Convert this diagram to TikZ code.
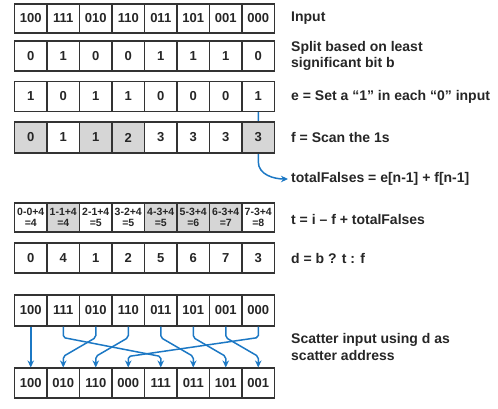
\documentclass[tikz,border=0pt]{standalone}
\usepackage{fontspec}
\setmainfont{Liberation Sans}
\usetikzlibrary{arrows.meta}
\pgfdeclarelayer{bg}
\pgfsetlayers{bg,main}
\definecolor{ln}{HTML}{333333}
\definecolor{cg}{HTML}{D6D6D6}
\definecolor{cw}{HTML}{FFFFFF}
\definecolor{bl}{HTML}{1C78C4}
\begin{document}
\begin{tikzpicture}[x=1pt,y=1pt,
  cell/.style={draw=ln, line width=1.1pt, minimum width=32.5pt, minimum height=30pt, inner sep=0pt, fill=white, text=black!85, font=\fontsize{13}{15}\selectfont\bfseries},
  small/.style={cell, font=\fontsize{10.5}{11}\selectfont\bfseries, align=center},
  lab/.style={anchor=west, font=\fontsize{14}{16.5}\selectfont\bfseries, align=left, inner sep=0pt, text=black!85},
  arr/.style={draw=bl, line width=1.5pt, -{Stealth[length=7pt,width=6.5pt]}},
]
\useasboundingbox (0,0) rectangle (498,-408);
% row 1: input
\foreach \v [count=\i from 0] in {100,111,010,110,011,101,001,000}
  \node[cell, minimum height=29pt] (a\i) at ({14.5+32.5*(\i+0.5)},-18.5) {\v};
% row 2: b
\foreach \v [count=\i from 0] in {0,1,0,0,1,1,1,0}
  \node[cell] (b\i) at ({14.5+32.5*(\i+0.5)},-56) {\v};
% row 3: e
\foreach \v [count=\i from 0] in {1,0,1,1,0,0,0,1}
  \node[cell] (e\i) at ({14.5+32.5*(\i+0.5)},-96.5) {\v};
% row 4: f
\foreach \v/\g [count=\i from 0] in {0/cg,1/cw,1/cg,2/cg,3/cw,3/cw,3/cw,3/cg}
  \node[cell, fill=\g, minimum height=31pt] (f\i) at ({14.5+32.5*(\i+0.5)},-137.5) {\v};
% row t
\foreach \v/\r/\g [count=\i from 0] in {0-0+4/4/cw,1-1+4/4/cg,2-1+4/5/cw,3-2+4/5/cw,4-3+4/5/cg,5-3+4/6/cg,6-3+4/7/cg,7-3+4/8/cw}
  \node[small, fill=\g, minimum height=29pt] (t\i) at ({14.5+32.5*(\i+0.5)},-217.5) {\v\\=\r};
% row d
\foreach \v [count=\i from 0] in {0,4,1,2,5,6,7,3}
  \node[cell] (d\i) at ({14.5+32.5*(\i+0.5)},-258) {\v};
% scatter input
\foreach \v [count=\i from 0] in {100,111,010,110,011,101,001,000}
  \node[cell, minimum height=31pt] (s\i) at ({14.5+32.5*(\i+0.5)},-310.5) {\v};
% scatter output
\foreach \v [count=\i from 0] in {100,010,110,000,111,011,101,001}
  \node[cell] (o\i) at ({14.5+32.5*(\i+0.5)},-383) {\v};

% labels
\node[lab] (l1) at (291,-18.5) {Input};
\node[lab] (l2) at (291,-56) {Split based on least\\significant bit b};
\node[lab] (l3) at (291,-97) {e = Set a “1” in each “0” input};
\node[lab] (l4) at (291,-137.5) {f = Scan the 1s};
\node[lab] (tf) at (291,-179) {totalFalses = e[n-1] + f[n-1]};
\node[lab] (l6) at (291,-219) {t = i – f + totalFalses};
\node[lab] (l7) at (291,-258) {d = b ? t : f};
\node[lab] (l8) at (291,-347) {Scatter input using d as\\scatter address};

% totalFalses arrow
\begin{pgfonlayer}{bg}
\draw[arr] (e7.south) -- (f7.south) -- ([yshift=-8pt]f7.south) to[out=-90,in=180] ([xshift=-3pt]tf.west);
\end{pgfonlayer}

% scatter arrows
\foreach \s/\d in {0/0,1/4,2/1,3/2,4/5,5/6,6/7,7/3}
  \draw[arr, rounded corners=2pt] (s\s.south) -- ([yshift=-11pt]s\s.south) -- ([yshift=11pt]o\d.north) -- (o\d.north);
\end{tikzpicture}
\end{document}
